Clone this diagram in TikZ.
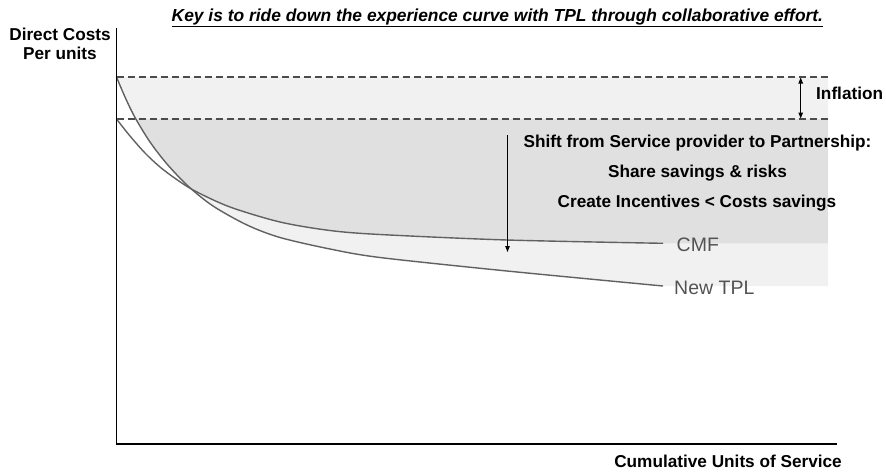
\documentclass[tikz,border=0pt]{standalone}
\usepackage{fontspec}
\setmainfont{Liberation Sans}
\usetikzlibrary{arrows.meta}
\definecolor{lightfill}{gray}{0.945}
\definecolor{darkfill}{gray}{0.878}
\definecolor{curvecol}{gray}{0.38}
\definecolor{dashcol}{gray}{0.3}
\definecolor{labcol}{gray}{0.32}
\begin{document}
\begin{tikzpicture}[x=1pt,y=-1pt,
  axisline/.style={line width=1.2pt,black},
  curveline/.style={line width=1.4pt,curvecol},
  dashline/.style={line width=1.4pt,dashcol,dash pattern=on 7pt off 4pt},
  arrowline/.style={line width=1pt,black,-{Triangle[length=6pt,width=4.5pt]}},
  dblarrow/.style={line width=1pt,black,{Triangle[length=6pt,width=4.5pt]}-{Triangle[length=6pt,width=4.5pt]}},
  boldtxt/.style={inner sep=0pt,font=\fontsize{17.2}{18}\selectfont\bfseries},
  curvelab/.style={inner sep=0pt,anchor=west,text=labcol,font=\fontsize{19.5}{21}\selectfont}
]
\useasboundingbox (0,0) rectangle (886,472);

% light region (above New TPL, below upper dashed line)
\fill[lightfill] (828,77) -- (116.5,77) -- plot[smooth,tension=0.5] coordinates {(116.5,77) (125,97) (135,117.5) (150,142) (167,164) (188,186) (213,206) (247,225) (280,237.5) (330,249) (380,257.5) (507,271) (663,286)} -- (828,286) -- cycle;

% dark region (above CMF and New TPL, below lower dashed line)
\begin{scope}
\clip (828,77) -- (116.5,77) -- plot[smooth,tension=0.5] coordinates {(116.5,77) (125,97) (135,117.5) (150,142) (167,164) (188,186) (213,206) (247,225) (280,237.5) (330,249) (380,257.5) (507,271) (663,286)} -- (828,286) -- cycle;
\fill[darkfill] (828,119) -- (116.5,119) -- plot[smooth,tension=0.5] coordinates {(116.5,119) (130,136) (145,153) (160,167) (176,179) (195,191) (230,207) (280,222) (330,230.5) (380,234.5) (507,240) (663,243.3)} -- (828,243.3) -- cycle;
\end{scope}

% dashed lines
\coordinate (dTopL) at (116.5,77);
\coordinate (dTopR) at (828,77);
\coordinate (dBotL) at (116.5,119);
\coordinate (dBotR) at (828,119);
\draw[dashline] (dTopL) -- (dTopR);
\draw[dashline] (dBotL) -- (dBotR);

% curves
\draw[curveline] plot[smooth,tension=0.5] coordinates {(116.5,77) (125,97) (135,117.5) (150,142) (167,164) (188,186) (213,206) (247,225) (280,237.5) (330,249) (380,257.5) (507,271) (663,286)};
\draw[curveline] plot[smooth,tension=0.5] coordinates {(116.5,119) (130,136) (145,153) (160,167) (176,179) (195,191) (230,207) (280,222) (330,230.5) (380,234.5) (507,240) (663,243.3)};

% axes
\coordinate (yTop) at (116.5,28);
\coordinate (orig) at (116.5,444);
\coordinate (xEnd) at (836.5,444);
\draw[axisline] (yTop) -- (orig) -- (xEnd);

% arrows
\coordinate (infTop) at (800.7,77.5);
\coordinate (infBot) at (800.7,118.5);
\draw[dblarrow] (infTop) -- (infBot);
\coordinate (shiftTop) at (507.5,135);
\coordinate (shiftBot) at (507.5,252);
\draw[arrowline] (shiftTop) -- (shiftBot);

% texts
\node[inner sep=0pt,anchor=west,font=\fontsize{17.4}{19}\selectfont\bfseries\itshape] (title) at (171.5,18) {\underline{Key is to ride down the experience curve with TPL through collaborative effort.}};
\node[boldtxt,align=center] (ylab) at (60,44) {Direct Costs\\[1pt]Per units};
\node[boldtxt,anchor=east] (xlab) at (842,461.5) {Cumulative Units of Service};
\node[boldtxt,anchor=west] (infl) at (816,93.3) {Inflation};
\node[boldtxt] (shift) at (697.5,143.3) {Shift from Service provider to Partnership:};
\node[boldtxt] (share) at (697.5,172.7) {Share savings \& risks};
\node[boldtxt] (create) at (697,203.3) {Create Incentives < Costs savings};
\node[curvelab] (cmf) at (676.5,245) {CMF};
\node[curvelab] (tpl) at (674,287.5) {New TPL};
\end{tikzpicture}
\end{document}
